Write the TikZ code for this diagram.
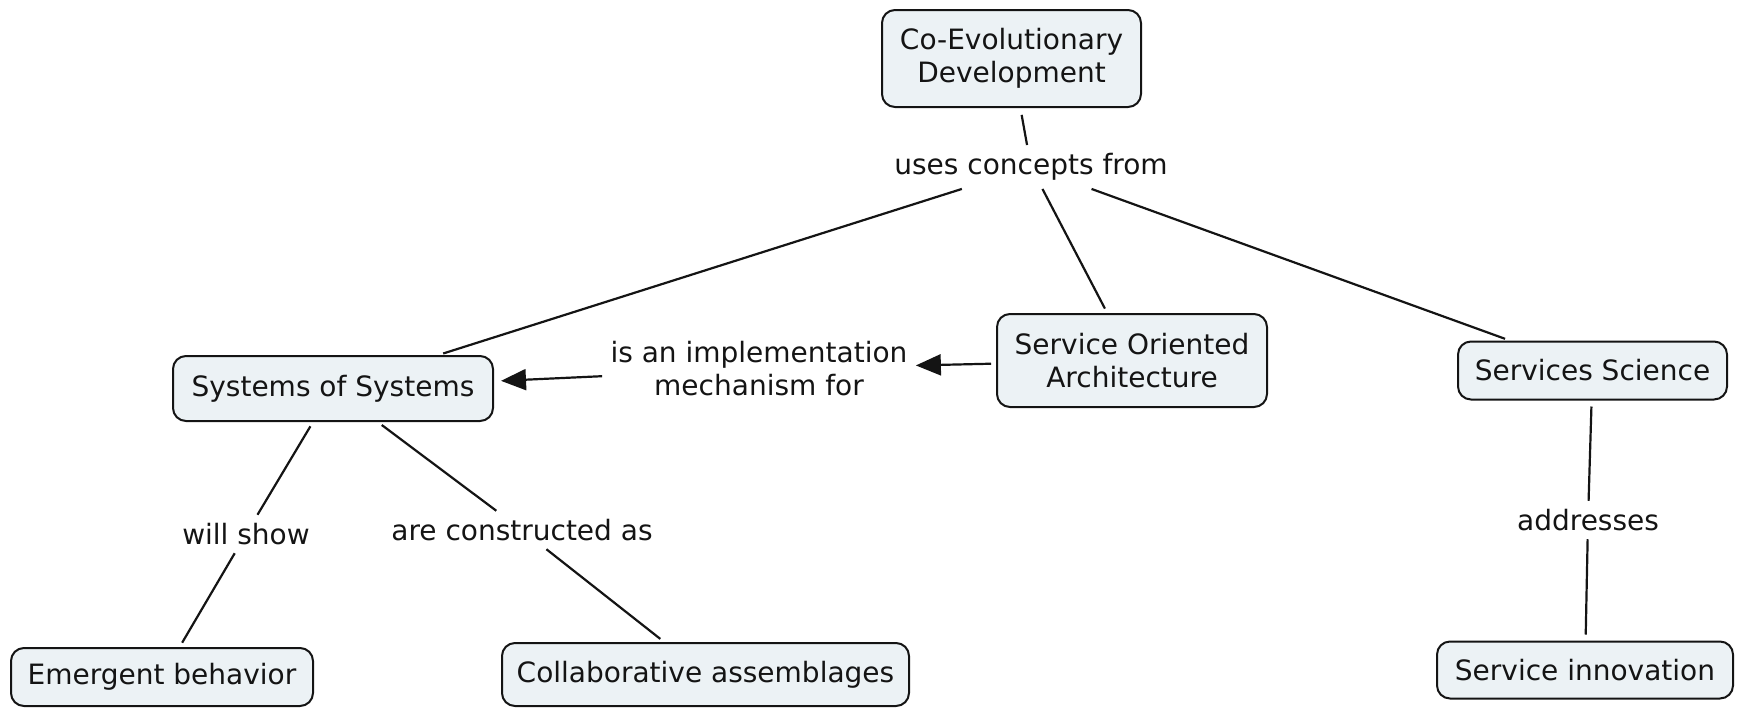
\documentclass[tikz,border=0pt]{standalone}
\usepackage{fontspec}
\setmainfont{DejaVu Sans}
\usetikzlibrary{arrows.meta}
\definecolor{boxfill}{RGB}{236,242,245}
\definecolor{ink}{RGB}{20,20,20}
\begin{document}
\begin{tikzpicture}[x=0.5pt,y=-0.5pt,
  concept/.style={draw=ink, line width=1pt, rounded corners=6.5pt, fill=boxfill,
    align=center, inner sep=0pt, text=ink, font=\fontsize{14}{16.5}\selectfont},
  link/.style={align=center, inner sep=4pt, text=ink, font=\fontsize{14}{16.5}\selectfont},
  conn/.style={line width=1.1pt, draw=ink},
  arr/.style={conn, -{Triangle[length=12.5pt,width=10.5pt]}},
]
\useasboundingbox (0,0) rectangle (1738,707);

% concepts
\node[concept, minimum width=129.5pt, minimum height=48.5pt] (coevo) at (1011.5,58.5) {Co-Evolutionary\\Development};
\node[concept, minimum width=160pt, minimum height=32.5pt] (sos) at (333,388.5) {Systems of Systems};
\node[concept, minimum width=135pt, minimum height=46.5pt] (soa) at (1132,360.5) {Service Oriented\\Architecture};
\node[concept, minimum width=134.5pt, minimum height=29pt] (ss) at (1592.5,370.5) {Services Science};
\node[concept, minimum width=148pt, minimum height=28.5pt] (si) at (1585,670) {Service innovation};
\node[concept, minimum width=151pt, minimum height=29pt] (emerg) at (162,677) {Emergent behavior};
\node[concept, minimum width=203.5pt, minimum height=31.5pt] (collab) at (705.5,674.5) {Collaborative assemblages};

% linking phrases
\node[link] (uses) at (1031,167) {uses concepts from};
\node[link] (impl) at (759,369) {is an implementation\\mechanism for};
\node[link] (will) at (246,534) {will show};
\node[link] (constr) at (522,530) {are constructed as};
\node[link] (addr) at (1588,520) {addresses};

% connectors
\draw[conn, shorten <=3.5pt] (coevo) -- (uses);
\draw[conn, shorten >=2.5pt] (uses) -- (sos);
\draw[conn, shorten >=2.5pt] (uses) -- (soa);
\draw[conn, shorten >=2.5pt] (uses) -- (ss);
\draw[arr, shorten <=2.5pt] (soa) -- (impl);
\draw[arr, shorten >=3.5pt] (impl) -- (sos);
\draw[conn, shorten <=2.5pt] (sos) -- (will);
\draw[conn, shorten >=2.5pt] (will) -- (emerg);
\draw[conn, shorten <=2.5pt] (sos) -- (constr);
\draw[conn, shorten >=2.5pt] (constr) -- (collab);
\draw[conn, shorten <=3pt] (ss) -- (addr);
\draw[conn, shorten >=3pt] (addr) -- (si);
\end{tikzpicture}
\end{document}
